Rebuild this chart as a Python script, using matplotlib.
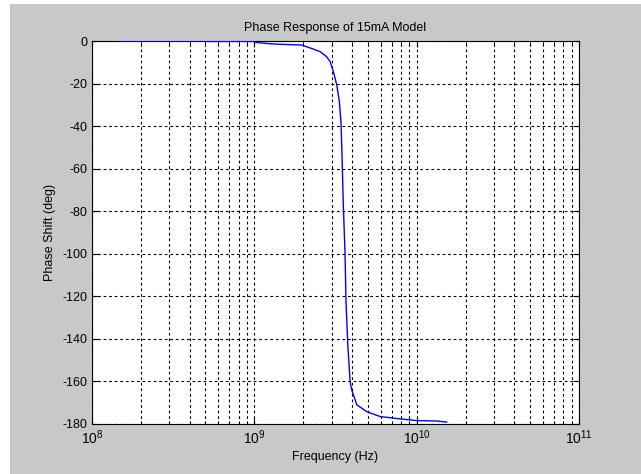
import numpy as np
import matplotlib
matplotlib.use("Agg")
import matplotlib.pyplot as plt
from matplotlib.patches import Rectangle
from matplotlib.ticker import LogLocator, NullFormatter

plt.rcParams["font.family"] = ["Liberation Sans", "DejaVu Sans"]
plt.rcParams["mathtext.fontset"] = "custom"
plt.rcParams["mathtext.rm"] = "Liberation Sans"
plt.rcParams["mathtext.it"] = "Liberation Sans"
plt.rcParams["axes.unicode_minus"] = False

# values
freq_hz = [1.5e8, 4.97e8, 5.0e8, 9.9e8, 1.0e9, 1.25e9, 1.44e9, 1.96e9, 2.31e9,
           2.54e9, 2.79e9, 2.93e9, 3.07e9, 3.22e9, 3.34e9, 3.42e9, 3.47e9,
           3.53e9, 3.62e9, 3.67e9, 3.76e9, 3.85e9, 3.89e9, 3.98e9, 4.28e9,
           4.93e9, 5.95e9, 7.9e9, 1.0e10, 1.33e10, 1.53e10]
phase_deg = [0.0, 0.0, -0.2, -0.2, -0.6, -1.3, -1.55, -1.9, -3.8,
             -5.0, -7.4, -9.7, -14.4, -20.7, -28.5, -38.7, -54.0,
             -76.3, -99.8, -122.5, -142.0, -154.6, -160.0, -164.0, -171.0,
             -174.2, -176.5, -177.6, -178.4, -178.6, -179.1]

yticks = list(range(-180, 1, 20))
xticks = [1e8, 1e9, 1e10, 1e11]
xticklabels = [r"$\mathregular{10^{8}}$", r"$\mathregular{10^{9}}$",
               r"$\mathregular{10^{10}}$", r"$\mathregular{10^{11}}$"]

fig = plt.figure(figsize=(6.41, 4.74), dpi=100, facecolor="white")
fig.patches.append(Rectangle((10 / 641, 0), 1, 1 - 4 / 474,
                             transform=fig.transFigure, facecolor="#c8c8c8",
                             edgecolor="none", zorder=-10))

ax = fig.add_axes([92 / 641, 1 - 424 / 474, 487 / 641, 383 / 474])
ax.set_facecolor("white")
ax.semilogx(freq_hz, phase_deg, color="#0000ff", lw=1.0, zorder=3)

ax.set_xlim(1e8, 1e11)
ax.set_ylim(-180, 0)
ax.set_xticks(xticks)
ax.set_xticklabels(xticklabels, fontsize=10)
ax.xaxis.set_minor_locator(LogLocator(base=10, subs=np.arange(2, 10)))
ax.xaxis.set_minor_formatter(NullFormatter())
ax.set_yticks(yticks)

grid_kw = dict(color="black", lw=0.8, linestyle=(0, (2.5, 2.5)))
ax.grid(True, which="major", axis="both", **grid_kw)
ax.grid(True, which="minor", axis="x", **grid_kw)

ax.tick_params(which="both", direction="in", top=True, right=True,
               colors="black", pad=3)
ax.tick_params(axis="y", labelsize=9)
ax.tick_params(which="major", length=4)
ax.tick_params(which="minor", length=2)
for s in ax.spines.values():
    s.set_linewidth(0.8)

ax.set_title("Phase Response of 15mA Model", fontsize=9, pad=7)
ax.set_xlabel("Frequency (Hz)", fontsize=9, labelpad=3)
ax.set_ylabel("Phase Shift (deg)", fontsize=9, labelpad=5)

fig.savefig("out.png", dpi=100, facecolor=fig.get_facecolor())
